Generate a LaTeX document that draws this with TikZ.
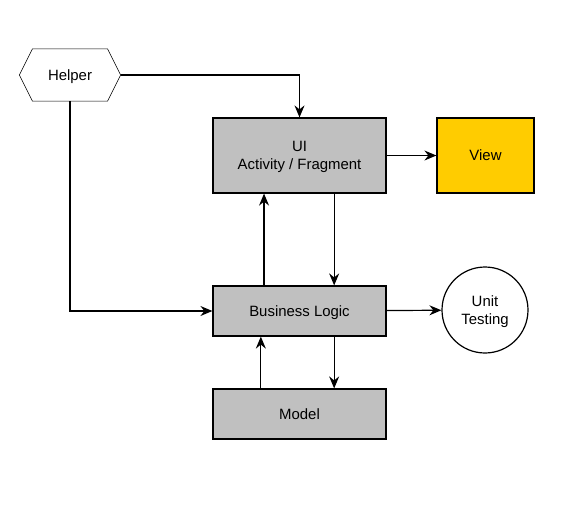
\documentclass[tikz,border=0pt]{standalone}
\usepackage{fontspec}
\setmainfont{Liberation Sans}
\usetikzlibrary{
  positioning,
  arrows.meta,
  backgrounds,
  }
\definecolor{boxgrey}{RGB}{192,192,192}
\definecolor{viewyellow}{RGB}{255,204,0}
\tikzset{
  block/.style={rectangle, draw, fill=boxgrey, minimum width=129.75pt, minimum height=37.5pt},
  conn/.style={-{Stealth[length=9pt, width=7.5pt, inset=3pt]}},
}

\begin{document}
\begin{tikzpicture}
                [x=0.75pt, y=-0.75pt, line width=0.9pt, font=\fontsize{11.2}{13.7}\selectfont,
                 every node/.style={text depth=0pt}]
                \useasboundingbox (0, 0) rectangle (588, 515);
                \node (helper) [minimum width=75pt, minimum height=38.25pt, inner sep=0pt] at (70, 75) {Helper};
                \begin{scope}[on background layer]
                    \draw[fill=white] (helper.west) -- ([xshift=9.75pt]helper.north west)
                        -- ([xshift=-9.75pt]helper.north east) -- (helper.east)
                        -- ([xshift=-9.75pt]helper.south east) -- ([xshift=9.75pt]helper.south west) -- cycle;
                \end{scope}
                \node (ui) [block, minimum height=56.25pt, align=center] at (299.5, 155.5) {UI\\Activity / Fragment};
                \node (view) [draw, fill=viewyellow, minimum width=72.75pt, minimum height=56.25pt] at (485.5, 155.5) {View};
                \node (bl) [block] at (299.5, 311) {Business Logic};
                \node (ut) [circle, draw, fill=white, minimum size=64.5pt, inner sep=0pt, align=center] at (485, 310) {Unit\\Testing};
                \node (model) [block] at (299.5, 414) {Model};
                
                \draw[conn] (helper.east) -| (ui.north);
                \draw[conn] (helper.south) |- (bl.west);
                \foreach \from\to in {ui/view,bl/ut}
                    \draw[conn] (\from) -- (\to);
                \foreach \from/\to/\dx in {ui.south/bl.north/26pt, bl.north/ui.south/-26.6pt,
                                          bl.south/model.north/26pt, model.north/bl.south/-29pt}
                    \draw[conn] ([xshift=\dx]\from) -- ([xshift=\dx]\to);
                
            \end{tikzpicture}
\end{document}
